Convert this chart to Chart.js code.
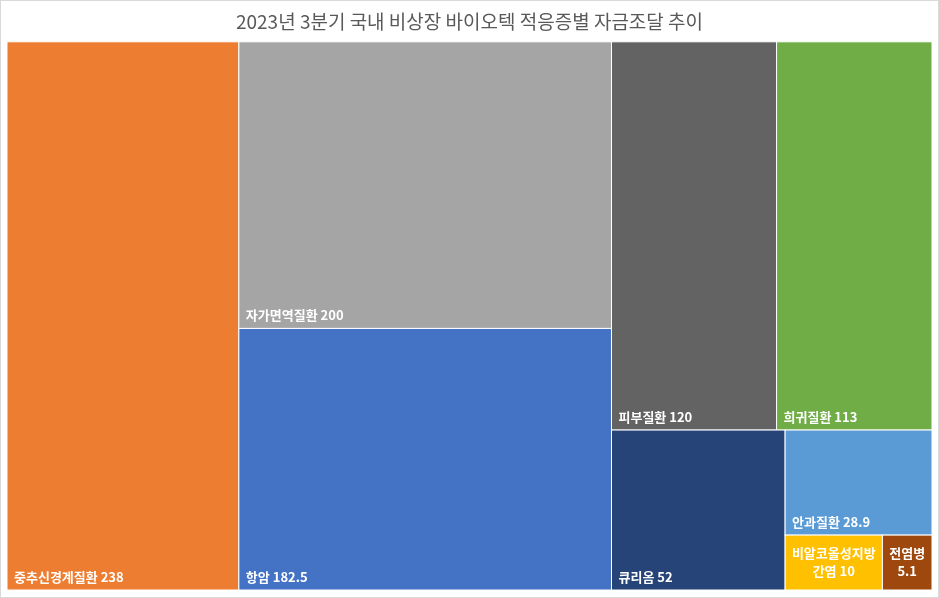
<!DOCTYPE html>
<html>
<head>
<meta charset="utf-8">
<script src="https://cdn.jsdelivr.net/npm/chart.js@4.4.0/dist/chart.umd.min.js"></script>
<style>
  body { margin: 0; background: #fff; }
  #wrap { width: 937px; height: 596px; border: 1px solid #d9d9d9; }
</style>
</head>
<body>
<div id="wrap"><canvas id="treemap" width="937" height="596"></canvas></div>
<script>
// 적응증별 자금조달 (억원)
const names = ['중추신경계질환', '자가면역질환', '항암', '피부질환', '희귀질환', '큐리옴', '안과질환', '비알코올성지방간염', '전염병'];
const values = [238, 200, 182.5, 120, 113, 52, 28.9, 10, 5.1];
const colors = ['#ED7D31', '#A5A5A5', '#4472C4', '#636363', '#70AD47', '#264478', '#5B9BD5', '#FFC000', '#9E480E'];

// 트리맵 그룹 구조 (h: 가로 분할, v: 세로 분할), 숫자는 names 인덱스
const groups = { dir: 'h', items: [0, { dir: 'v', items: [1, 2] }, { dir: 'v', items: [
    { dir: 'h', items: [3, 4] },
    { dir: 'h', items: [5, { dir: 'v', items: [6, { dir: 'h', items: [7, 8] }] }] }
]}]};

function groupSum(node) {
    if (typeof node === 'number') return values[node];
    return node.items.reduce((s, n) => s + groupSum(n), 0);
}

// 데이터 단위(0~1)로 사각형 계산
function layout(node, x0, y0, x1, y1, out) {
    if (typeof node === 'number') { out.push({ i: node, x0, y0, x1, y1 }); return out; }
    const total = groupSum(node);
    let pos = node.dir === 'h' ? x0 : y0;
    node.items.forEach(n => {
        const frac = groupSum(n) / total;
        if (node.dir === 'h') {
            const w = (x1 - x0) * frac;
            layout(n, pos, y0, pos + w, y1, out); pos += w;
        } else {
            const h = (y1 - y0) * frac;
            layout(n, x0, pos, x1, pos + h, out); pos += h;
        }
    });
    return out;
}

function wrapText(ctx, text, maxW) {
    const lines = [];
    let cur = '';
    text.split(' ').forEach(word => {
        const test = cur ? cur + ' ' + word : word;
        if (ctx.measureText(test).width <= maxW) { cur = test; return; }
        if (cur) { lines.push(cur); cur = ''; }
        for (const ch of word) {
            if (ctx.measureText(cur + ch).width > maxW && cur) { lines.push(cur); cur = ch; }
            else cur += ch;
        }
    });
    if (cur) lines.push(cur);
    return lines;
}

const treemapPlugin = {
    id: 'treemapPlugin',
    afterDatasetsDraw(chart) {
        const { ctx, scales: { x, y } } = chart;
        const rects = layout(groups, 0, 0, 1, 1, []);
        ctx.save();
        rects.forEach(r => {
            const px0 = x.getPixelForValue(r.x0), px1 = x.getPixelForValue(r.x1);
            const py0 = y.getPixelForValue(r.y0), py1 = y.getPixelForValue(r.y1);
            ctx.fillStyle = colors[r.i];
            ctx.fillRect(px0, py0, px1 - px0, py1 - py0);
            ctx.strokeStyle = '#fff';
            ctx.lineWidth = 1;
            ctx.strokeRect(px0, py0, px1 - px0, py1 - py0);

            ctx.font = 'bold 13px "Noto Sans CJK KR", "Noto Sans", sans-serif';
            ctx.fillStyle = '#fff';
            const label = names[r.i] + ' ' + values[r.i];
            const maxW = px1 - px0 - 10;
            if (ctx.measureText(label).width <= maxW) {
                ctx.textAlign = 'left';
                ctx.textBaseline = 'alphabetic';
                ctx.fillText(label, px0 + 7, py1 - 8);
            } else {
                const lines = wrapText(ctx, label, maxW);
                ctx.textAlign = 'center';
                ctx.textBaseline = 'middle';
                const lh = 18;
                const cy = (py0 + py1) / 2 - (lines.length - 1) * lh / 2;
                lines.forEach((ln, k) => ctx.fillText(ln, (px0 + px1) / 2, cy + k * lh));
            }
        });
        ctx.restore();
    }
};

new Chart(document.getElementById('treemap'), {
    type: 'scatter',
    data: { datasets: [{ data: [] }] },
    options: {
        responsive: false,
        animation: false,
        layout: { padding: { left: 6, right: 6, bottom: 7, top: 0 } },
        plugins: {
            legend: { display: false },
            tooltip: { enabled: false },
            title: {
                display: true,
                text: '2023년 3분기 국내 비상장 바이오텍 적응증별 자금조달 추이',
                color: '#595959',
                font: { size: 19, weight: 'normal', family: '"Noto Sans CJK KR", "Noto Sans", sans-serif' },
                padding: { top: 9, bottom: 9 }
            }
        },
        scales: {
            x: { type: 'linear', min: 0, max: 1, display: false },
            y: { type: 'linear', min: 0, max: 1, reverse: true, display: false }
        }
    },
    plugins: [treemapPlugin]
});
</script>
</body>
</html>
